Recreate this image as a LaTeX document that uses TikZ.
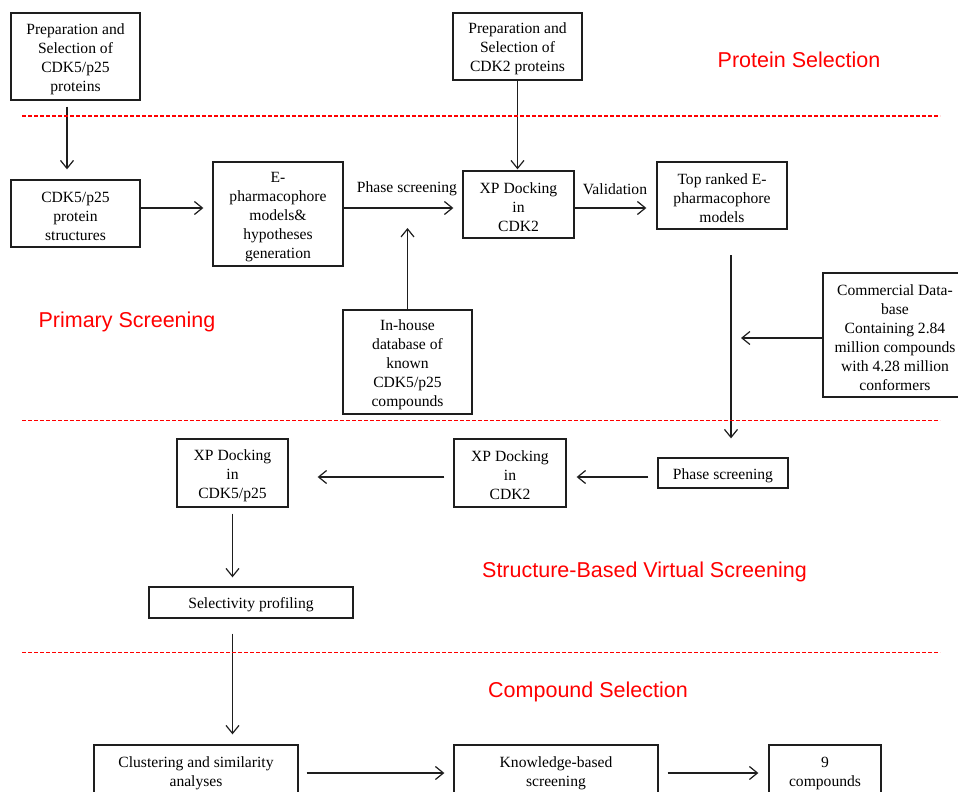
\documentclass[tikz,border=0pt]{standalone}
\usepackage{fontspec}
\setmainfont{Liberation Serif}
\newfontfamily\arialf{Liberation Sans}
\usetikzlibrary{arrows.meta}
\definecolor{lnc}{RGB}{30,30,30}
\definecolor{sepred}{RGB}{255,0,0}
\newcommand\tpstrut{\rule{0pt}{15.5pt}}
\begin{document}
\begin{tikzpicture}[x=1pt,y=-1pt,
  box/.style={draw=lnc, line width=1.3pt, align=center, inner sep=0pt, font=\fontsize{15.6}{19}\selectfont},
  arr/.style={draw=lnc, line width=1.2pt, -{Straight Barb[length=8pt,width=13pt,line width=1.2pt]}},
  sep/.style={draw=sepred, line width=1.1pt, dash pattern=on 4pt off 2pt},
  sec/.style={text=red, font=\arialf\fontsize{21.5}{24}\selectfont, inner sep=0pt},
  lbl/.style={font=\fontsize{15.6}{18}\selectfont, inner sep=0pt}]
\useasboundingbox (0,0) rectangle (958,792);
\clip (0,0) rectangle (958,792);
% section labels
\node[sec] (s1) at (799,60) {Protein Selection};
\node[sec] (s2) at (127,322) {Primary Screening};
\node[sec] (s3) at (644.5,572) {Structure-Based Virtual Screening};
\node[sec] (s4) at (588,692) {Compound Selection};
% boxes
\node[box, minimum width=129pt, minimum height=87pt] (b1) at (75.5,56.5) {\tpstrut Preparation and\\Selection of\\CDK5/p25\\proteins};
\node[box, minimum width=129pt, minimum height=67pt] (b2) at (517.5,46.5) {\tpstrut Preparation and\\Selection of\\CDK2 proteins};
\node[box, minimum width=129pt, minimum height=67pt] (b3) at (75.5,213.5) {\tpstrut CDK5/p25\\protein\\structures};
\node[box, minimum width=130pt, minimum height=104pt] (b4) at (278,214) {\tpstrut E-\\pharmacophore\\models\&\\hypotheses\\generation};
\node[box, minimum width=111pt, minimum height=67pt] (b5) at (518.5,204.5) {\tpstrut XP Docking\\in\\CDK2};
\node[box, minimum width=130pt, minimum height=67pt] (b6) at (722,195.5) {\tpstrut Top ranked E-\\pharmacophore\\models};
\node[box, minimum width=144pt, minimum height=124pt] (b7) at (895,335) {\tpstrut Commercial Data-\\base\\Containing 2.84\\million compounds\\with 4.28 million\\conformers};
\node[box, minimum width=129pt, minimum height=104pt] (b8) at (407.5,362) {\tpstrut In-house\\database of\\known\\CDK5/p25\\compounds};
\node[box, minimum width=130pt, minimum height=30pt] (b9) at (723,473) {\tpstrut Phase screening};
\node[box, minimum width=112pt, minimum height=68pt] (b10) at (510,473) {\tpstrut XP Docking\\in\\CDK2};
\node[box, minimum width=111pt, minimum height=68pt] (b11) at (232.5,473) {\tpstrut XP Docking\\in\\CDK5/p25};
\node[box, minimum width=204pt, minimum height=31pt] (b12) at (251,602.5) {\tpstrut Selectivity profiling};
\node[box, minimum width=204pt, minimum height=52pt] (b13) at (196,771) {\tpstrut Clustering and similarity\\analyses};
\node[box, minimum width=204pt, minimum height=52pt] (b14) at (556,771) {\tpstrut Knowledge-based\\screening};
\node[box, minimum width=112pt, minimum height=52pt] (b15) at (825,771) {\tpstrut 9\\compounds};
% connector labels
\node[lbl] (l1) at (407,189) {Phase screening};
\node[lbl] (l2) at (615,189) {Validation};
% helper coordinates
\coordinate (inhTip) at (407.5,228);
\coordinate (vtop) at (731,255);
\coordinate (cTip) at (741,338);
% arrows
\draw[arr, shorten <=6pt, shorten >=10pt] ([xshift=-8.5pt]b1.south) -- ([xshift=-8.5pt]b3.north);
\draw[arr, shorten >=1pt] (b2.south) -- (b2.south |- b5.north);
\draw[arr, shorten >=9pt] ([yshift=5.5pt]b3.east) -- ([yshift=5.5pt]b3.east -| b4.west);
\draw[arr, shorten >=9pt] ([yshift=6pt]b4.east) -- ([yshift=6pt]b4.east -| b5.west);
\draw[arr, shorten >=10pt] ([yshift=-3.5pt]b5.east) -- ([yshift=-3.5pt]b5.east -| b6.west);
\draw[arr] (b8.north) -- (inhTip);
\draw[arr, shorten >=19pt] (vtop) -- (vtop |- b9.north);
\draw[arr] (cTip -| b7.west) -- (cTip);
\draw[arr, shorten <=9pt, shorten >=10pt] ([yshift=-4pt]b9.west) -- ([yshift=-4pt]b9.west -| b10.east);
\draw[arr, shorten <=9pt, shorten >=29pt] ([yshift=-4pt]b10.west) -- ([yshift=-4pt]b10.west -| b11.east);
\draw[arr, shorten <=6pt, shorten >=9pt] (b11.south) -- (b11.south |- b12.north);
\draw[arr, shorten <=15pt, shorten >=10pt] (b12.south -| b11) -- (b13.north -| b11);
\draw[arr, shorten <=8pt, shorten >=9pt] ([yshift=-2pt]b13.east) -- ([yshift=-2pt]b13.east -| b14.west);
\draw[arr, shorten <=9pt, shorten >=10pt] ([yshift=-2pt]b14.east) -- ([yshift=-2pt]b14.east -| b15.west);
% separators
\draw[sep] (22,116) -- (940,116);
\draw[sep] (22,420.5) -- (940,420.5);
\draw[sep] (22,652.5) -- (940,652.5);
\end{tikzpicture}
\end{document}
